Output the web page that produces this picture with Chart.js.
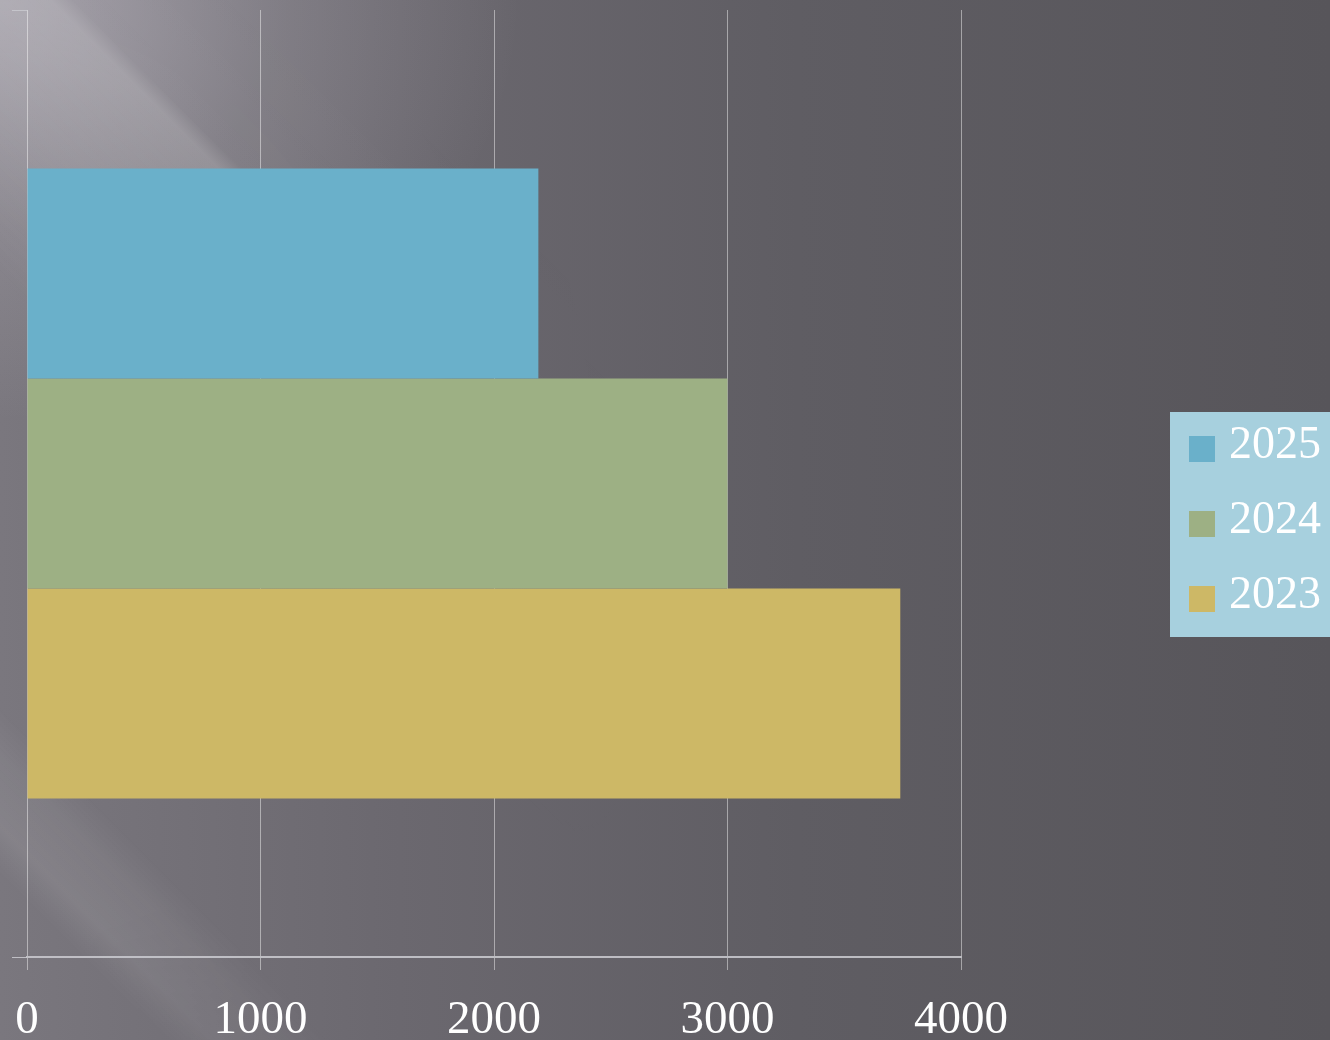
<!DOCTYPE html>
<html>
<head>
<meta charset="utf-8">
<script src="https://cdn.jsdelivr.net/npm/chart.js@4/dist/chart.umd.min.js"></script>
<style>
	html, body { margin: 0; padding: 0; }
	body {
		width: 1330px; height: 1040px; overflow: hidden; position: relative;
		background:
			radial-gradient(ellipse 520px 420px at 0px 0px, rgba(196,192,202,0.6) 0%, rgba(196,192,202,0.2) 55%, rgba(196,192,202,0) 100%),
			linear-gradient(to right, #7a777e 0%, #6b686f 30%, #5f5d63 60%, #57555a 100%);
	}
	#streaks {
		position: absolute; left: 0; top: 0; width: 1330px; height: 1040px;
		background: linear-gradient(45deg, rgba(255,255,255,0) 0%, rgba(255,255,255,0) 7%, rgba(255,255,255,0.09) 9%, rgba(255,255,255,0.06) 12%, rgba(255,255,255,0) 14%, rgba(255,255,255,0) 32%, rgba(255,255,255,0.10) 40%, rgba(255,255,255,0.16) 46%, rgba(255,255,255,0.02) 47%, rgba(255,255,255,0) 60%);
		-webkit-mask-image: radial-gradient(ellipse 900px 1100px at 0px 500px, #000 0%, #000 40%, rgba(0,0,0,0) 75%);
		mask-image: radial-gradient(ellipse 900px 1100px at 0px 500px, #000 0%, #000 40%, rgba(0,0,0,0) 75%);
	}
	#wrap { position: absolute; left: 0; top: 0; width: 1330px; height: 1040px; }
</style>
</head>
<body>
<div id="streaks"></div>
<div id="wrap"><canvas id="chart_sales"></canvas></div>
<script>
// chart data
const categories = [''];
const seriesNames = ['2025', '2024', '2023'];
const values2025 = [2190];
const values2024 = [3000];
const values2023 = [3740];
const seriesColors = ['#6ab0ca', '#9db084', '#cdb866'];
const xTicks = [0, 1000, 2000, 3000, 4000];

const FONT = "'Liberation Serif', 'Times New Roman', serif";

//Draw legend box on the right
const legendBox = {
	id: 'legendBox',
	afterDraw(chart) {
		const ctx = chart.ctx;
		ctx.save();
		ctx.fillStyle = '#a7d0de';
		ctx.fillRect(1170, 412, 160, 225);
		ctx.font = '46px ' + FONT;
		ctx.textBaseline = 'middle';
		chart.data.datasets.forEach(function(ds, i) {
			const cy = 449 + i * 75;
			ctx.fillStyle = ds.backgroundColor;
			ctx.fillRect(1189, cy - 13, 26, 26);
			ctx.fillStyle = '#ffffff';
			ctx.fillText(ds.label, 1229, cy - 3);
		});
		ctx.restore();
	}
};

const seriesValues = [values2025, values2024, values2023];

const chart_sales = new Chart(document.getElementById('chart_sales'), {
	type: 'bar',
	data: {
		labels: categories,
		datasets: seriesNames.map(function(name, i) {
			return {
				label: name,
				data: seriesValues[i],
				backgroundColor: seriesColors[i],
				borderWidth: 0,
				barPercentage: 1,
				categoryPercentage: 0.665
			};
		})
	},
	options: {
		indexAxis: 'y',
		responsive: true,
		maintainAspectRatio: false,
		animation: false,
		layout: { padding: { top: 10, left: 12, right: 369, bottom: 0 } },
		plugins: {
			legend: { display: false },
			tooltip: { enabled: false }
		},
		scales: {
			x: {
				min: 0,
				max: 4000,
				afterBuildTicks: function(axis) {
					axis.ticks = xTicks.map(function(v) { return { value: v }; });
				},
				afterFit: function(axis) {
					axis.height = 83;
					axis.paddingLeft = 0;
					axis.paddingRight = 0;
				},
				grid: {
					color: 'rgba(255,255,255,0.45)',
					lineWidth: 1,
					tickLength: 13
				},
				border: { color: 'rgba(200,200,205,0.9)', width: 2 },
				ticks: {
					color: '#ffffff',
					padding: 27,
					maxRotation: 0,
					font: { family: FONT, size: 47, lineHeight: 1.0 },
					callback: function(value) { return String(value); }
				}
			},
			y: {
				afterFit: function(axis) { axis.width = 15; },
				grid: {
					drawOnChartArea: false,
					color: 'rgba(200,200,205,0.9)',
					tickLength: 15
				},
				border: { display: false },
				ticks: { display: false }
			}
		}
	},
	plugins: [legendBox]
});
</script>
</body>
</html>
